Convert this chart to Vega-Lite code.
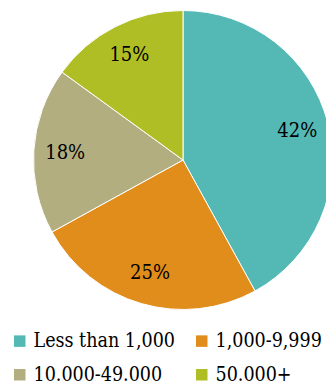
{
  "$schema": "https://vega.github.io/schema/vega-lite/v6.json",
  "width": 300,
  "height": 300,
  "autosize": {"type": "none"},
  "padding": {"left": 33, "top": 10, "right": -7, "bottom": 71},
  "data": {
    "values": [
      {"category": "Less than 1,000", "share": 0.42, "order": 1},
      {"category": "1,000-9,999", "share": 0.25, "order": 2},
      {"category": "10.000-49.000", "share": 0.18, "order": 3},
      {"category": "50.000+", "share": 0.15, "order": 4}
    ]
  },
  "encoding": {
    "theta": {"field": "share", "type": "quantitative", "stack": true},
    "order": {"field": "order", "type": "quantitative"}
  },
  "layer": [
    {
      "mark": {"type": "arc", "outerRadius": 149.5, "stroke": "white", "strokeWidth": 1},
      "encoding": {
        "color": {
          "field": "category",
          "type": "nominal",
          "scale": {
            "domain": ["Less than 1,000", "1,000-9,999", "10.000-49.000", "50.000+"],
            "range": ["#54B9B4", "#E18D1B", "#B3AE80", "#AFBE24"]
          },
          "legend": {
            "orient": "none",
            "direction": "horizontal",
            "legendX": -23,
            "legendY": 321,
            "columns": 2,
            "title": null,
            "symbolType": "square",
            "symbolSize": 132,
            "symbolStrokeWidth": 0,
            "labelFont": "DejaVu Serif Condensed",
            "labelFontSize": 19.5,
            "labelColor": "#000000",
            "labelOffset": 4,
            "columnPadding": 17,
            "rowPadding": 13,
            "labelLimit": 300
          }
        }
      }
    },
    {
      "mark": {"type": "text", "radius": 118, "font": "DejaVu Serif Condensed", "fontSize": 20, "color": "#000000"},
      "encoding": {
        "text": {"field": "share", "type": "quantitative", "format": ".0%"}
      }
    }
  ],
  "config": {"view": {"stroke": null}}
}
